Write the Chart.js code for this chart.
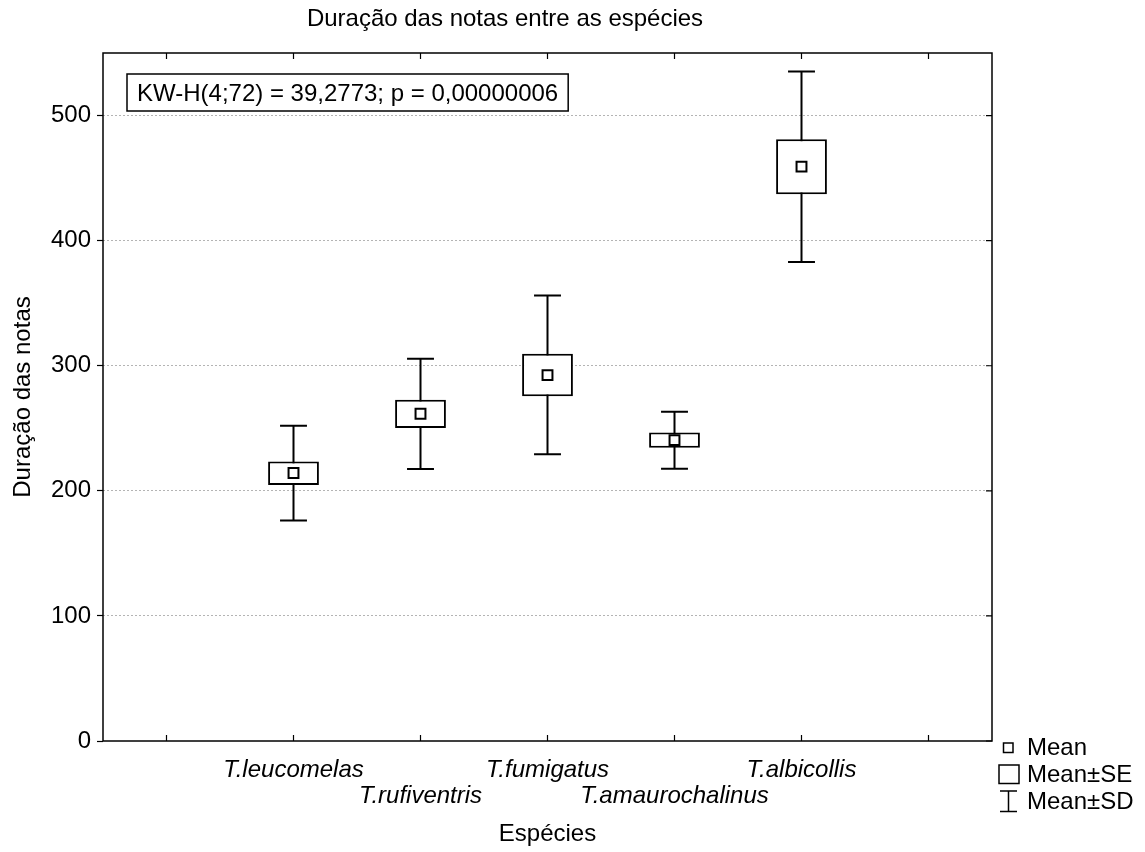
<!DOCTYPE html>
<html>
<head>
<meta charset="utf-8">
<script src="https://cdn.jsdelivr.net/npm/chart.js@4.4.0/dist/chart.umd.min.js"></script>
<style>
html,body{margin:0;padding:0;background:#fff}
#wrap{width:1145px;height:852px;position:relative}
</style>
</head>
<body>
<div id="wrap"><canvas id="c"></canvas></div>
<script>
// ---- data ----
const categories = ['T.leucomelas', 'T.rufiventris', 'T.fumigatus', 'T.amaurochalinus', 'T.albicollis'];
const means  = [214.2, 261.6, 292.5, 240.5, 459.2];
const seLow  = [204.6, 250.2, 275.5, 234.4, 437.0];
const seHigh = [223.4, 272.8, 309.6, 246.7, 481.0];
const sdLow  = [176.2, 217.4, 229.3, 217.6, 383.0];
const sdHigh = [252.0, 305.6, 356.2, 263.2, 535.2];
const yTickStep = 100;
const yMin = 0, yMax = 550;
const chartTitle = 'Duração das notas entre as espécies';
const xTitle = 'Espécies';
const yTitle = 'Duração das notas';
const statText = 'KW-H(4;72) = 39,2773; p = 0,00000006';
const legendItems = ['Mean', 'Mean±SE', 'Mean±SD'];

// ---- setup ----
const FONT = "'Liberation Sans', Arial, Helvetica, sans-serif";
const FS = 24;
Chart.defaults.font.family = FONT;
Chart.defaults.color = '#000';

const labels = ['', ...categories, ''];
const pad = arr => [null, ...arr, null];

const extras = {
  id: 'extras',
  beforeDatasetsDraw(chart) {
    const {ctx, scales: {x, y}} = chart;
    const capHalf = (x.width / labels.length) * 0.106;
    ctx.save();
    ctx.strokeStyle = '#000';
    ctx.lineWidth = 2;
    sdLow.forEach((lo, i) => {
      const px = x.getPixelForValue(i + 1);
      const yl = y.getPixelForValue(lo), yh = y.getPixelForValue(sdHigh[i]);
      ctx.beginPath();
      ctx.moveTo(px, yl); ctx.lineTo(px, yh);
      ctx.moveTo(px - capHalf, yl); ctx.lineTo(px + capHalf, yl);
      ctx.moveTo(px - capHalf, yh); ctx.lineTo(px + capHalf, yh);
      ctx.stroke();
    });
    ctx.restore();
  },
  afterDraw(chart) {
    const {ctx, chartArea: a, scales: {x, y}} = chart;
    ctx.save();
    // frame
    ctx.strokeStyle = '#000';
    ctx.lineWidth = 1.5;
    ctx.strokeRect(a.left, a.top, a.right - a.left, a.bottom - a.top);
    // inward ticks
    ctx.lineWidth = 1.2;
    ctx.beginPath();
    for (let i = 0; i < labels.length; i++) {
      const px = x.getPixelForTick(i);
      ctx.moveTo(px, a.top); ctx.lineTo(px, a.top + 6);
      ctx.moveTo(px, a.bottom); ctx.lineTo(px, a.bottom - 6);
    }
    y.ticks.forEach(t => {
      const py = y.getPixelForValue(t.value);
      ctx.moveTo(a.right, py); ctx.lineTo(a.right - 6, py);
    });
    ctx.stroke();

    // statistic box
    ctx.font = FS + 'px ' + FONT;
    ctx.textBaseline = 'alphabetic';
    ctx.textAlign = 'left';
    const tw = ctx.measureText(statText).width;
    const bx = a.left + 24, by = a.top + 21;
    ctx.fillStyle = '#fff';
    ctx.fillRect(bx, by, tw + 20, 37);
    ctx.lineWidth = 1.5;
    ctx.strokeRect(bx, by, tw + 20, 37);
    ctx.fillStyle = '#000';
    ctx.fillText(statText, bx + 10, by + 27);

    // legend
    const r = a.right, b = a.bottom;
    ctx.lineWidth = 1.5;
    ctx.strokeRect(r + 11.5, b + 2, 9.5, 9.5);
    ctx.strokeRect(r + 7, b + 24, 20, 18.5);
    ctx.beginPath();
    ctx.moveTo(r + 16.5, b + 50); ctx.lineTo(r + 16.5, b + 70.5);
    ctx.moveTo(r + 8, b + 50); ctx.lineTo(r + 25, b + 50);
    ctx.moveTo(r + 8, b + 70.5); ctx.lineTo(r + 25, b + 70.5);
    ctx.stroke();
    ctx.fillText(legendItems[0], r + 35, b + 14);
    ctx.fillText(legendItems[1], r + 35, b + 41);
    ctx.fillText(legendItems[2], r + 35, b + 68);
    ctx.restore();
  }
};

new Chart(document.getElementById('c'), {
  data: {
    labels: labels,
    datasets: [
      {
        type: 'line',
        label: legendItems[0],
        data: pad(means),
        showLine: false,
        pointStyle: 'rect',
        pointRadius: 7,
        pointHoverRadius: 7,
        pointBorderWidth: 2,
        pointBackgroundColor: '#fff',
        pointBorderColor: '#000',
        order: 0
      },
      {
        type: 'bar',
        label: legendItems[1],
        data: pad(seLow.map((lo, i) => [lo, seHigh[i]])),
        backgroundColor: '#fff',
        borderColor: '#000',
        borderWidth: 2,
        borderSkipped: false,
        barPercentage: 0.4,
        categoryPercentage: 1,
        order: 1
      }
    ]
  },
  options: {
    responsive: true,
    maintainAspectRatio: false,
    animation: false,
    events: [],
    layout: { padding: { left: 18, right: 153, top: 0, bottom: 0 } },
    plugins: {
      legend: { display: false },
      tooltip: { enabled: false },
      title: {
        display: true,
        text: chartTitle,
        color: '#000',
        font: { size: FS, weight: 'normal', family: FONT, lineHeight: 1.2 },
        padding: { top: 5, bottom: 19.2 }
      }
    },
    scales: {
      x: {
        type: 'category',
        offset: true,
        grid: { display: false, drawTicks: false, tickLength: 0 },
        border: { display: false },
        ticks: {
          autoSkip: false,
          maxRotation: 0,
          minRotation: 0,
          padding: 16,
          color: '#000',
          font: { size: FS, style: 'italic', lineHeight: 1.08 },
          callback: function (v, i) {
            const l = labels[i];
            if (!l) return '';
            return (i % 2 === 1) ? [l, ''] : ['', l];
          }
        },
        title: {
          display: true,
          text: xTitle,
          color: '#000',
          font: { size: FS, lineHeight: 1.2 },
          padding: { top: 0, bottom: 3.6 }
        },
        afterFit: s => { s.height = 111; }
      },
      y: {
        type: 'linear',
        min: yMin,
        max: yMax,
        grid: {
          color: c => (c.tick && c.tick.value === 0) ? 'rgba(0,0,0,0)' : '#b4b4b4',
          lineWidth: 1,
          tickColor: '#000',
          tickLength: 6,
          tickWidth: 1.2,
          tickBorderDash: []
        },
        border: { display: false, dash: [2, 2] },
        ticks: {
          stepSize: yTickStep,
          includeBounds: false,
          padding: 6,
          color: '#000',
          font: { size: FS }
        },
        title: {
          display: true,
          text: yTitle,
          color: '#000',
          font: { size: FS, lineHeight: 1.2 },
          padding: { top: -9.4, bottom: 0 }
        },
        afterFit: s => { s.width = 85; }
      }
    }
  },
  plugins: [extras]
});
</script>
</body>
</html>
